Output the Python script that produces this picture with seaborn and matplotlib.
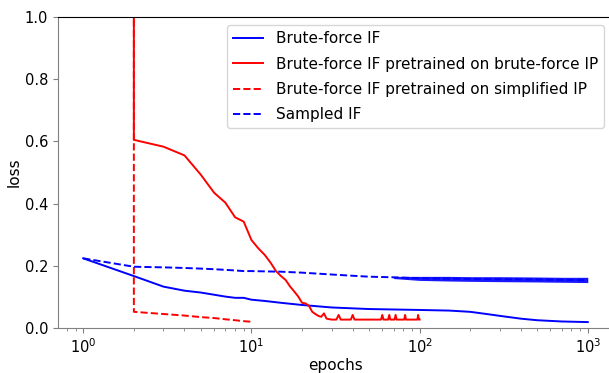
import matplotlib
matplotlib.use("Agg")
import matplotlib.pyplot as plt
import seaborn as sns
import pandas as pd
import numpy as np

# ---- data ----
bf_epochs = [1, 2, 3, 4, 5, 6, 7, 8, 9, 10, 12, 15, 20, 30, 50, 100, 150, 200, 250, 300, 400, 500, 700, 1000]
bf_loss = [0.224, 0.167, 0.133, 0.120, 0.114, 0.107, 0.101, 0.097, 0.097, 0.091, 0.087, 0.081, 0.074,
           0.066, 0.061, 0.058, 0.056, 0.052, 0.045, 0.039, 0.030, 0.025, 0.021, 0.019]

pbf_epochs = [2, 2, 3, 4, 5, 6, 7, 8, 9, 10, 11, 12, 13, 14, 15, 16, 17, 18, 19, 20, 21, 22, 23, 24,
              25, 26, 27, 28, 30, 32, 33, 34, 39, 40, 41, 59, 60, 61, 65, 66, 67, 71, 72, 73,
              81, 82, 83, 97, 98, 99, 100]
pbf_loss = [1.50, 0.605, 0.583, 0.555, 0.493, 0.435, 0.403, 0.356, 0.342, 0.283, 0.256, 0.235, 0.210,
            0.183, 0.167, 0.154, 0.133, 0.117, 0.101, 0.081, 0.079, 0.071, 0.052, 0.045,
            0.039, 0.036, 0.047, 0.030, 0.027, 0.027, 0.042, 0.027, 0.027, 0.042, 0.027,
            0.027, 0.042, 0.027, 0.027, 0.042, 0.027, 0.027, 0.042, 0.027,
            0.027, 0.042, 0.027, 0.027, 0.042, 0.027, 0.027]

psi_epochs = [2, 2, 3, 4, 5, 6, 7, 8, 9, 10]
psi_loss = [1.50, 0.052, 0.045, 0.040, 0.035, 0.032, 0.028, 0.025, 0.022, 0.020]

sif_epochs = [1, 2, 3, 4, 5, 6, 7, 8, 9, 10, 15, 20, 30, 40, 50, 70, 100, 200, 300, 500, 700, 1000]
sif_loss = [0.224, 0.197, 0.195, 0.193, 0.191, 0.189, 0.187, 0.185, 0.183, 0.183, 0.181, 0.178,
            0.172, 0.168, 0.165, 0.163, 0.160, 0.158, 0.157, 0.156, 0.155, 0.154]

# spread of the noisy sampled-IF curve
band_epochs = [70, 100, 150, 200, 300, 500, 700, 1000]
band_low = [0.159, 0.153, 0.151, 0.150, 0.149, 0.148, 0.147, 0.146]
band_high = [0.166, 0.166, 0.166, 0.165, 0.165, 0.164, 0.163, 0.163]

labels = ["Brute-force IF",
          "Brute-force IF pretrained on brute-force IP",
          "Brute-force IF pretrained on simplified IP",
          "Sampled IF"]

W, H = 609, 373
fig = plt.figure(figsize=(W / 100, H / 100), dpi=100)
ax = fig.add_axes([58 / W, 45 / H, 555 / W, 311 / H])

series = [
    (bf_epochs, bf_loss, "blue", "-"),
    (pbf_epochs, pbf_loss, "red", "-"),
    (psi_epochs, psi_loss, "red", "--"),
    (sif_epochs, sif_loss, "blue", "--"),
]
for (ep, ls_, col, sty), lab in zip(series, labels):
    df = pd.DataFrame({"epochs": ep, "loss": ls_})
    sns.lineplot(data=df, x="epochs", y="loss", ax=ax, color=col, linestyle=sty,
                 linewidth=1.4, label=lab, sort=False, estimator=None)

ax.fill_between(band_epochs, band_low, band_high, color="blue", alpha=0.9, linewidth=0)

ax.set_xscale("log")
ax.set_xlim(10 ** -0.15, 10 ** 3.15)
ax.set_ylim(0, 1.0)
ax.set_yticks([0.0, 0.2, 0.4, 0.6, 0.8, 1.0])
ax.set_xlabel("epochs", fontsize=11, labelpad=1)
ax.set_ylabel("loss", fontsize=11, labelpad=2)
ax.tick_params(labelsize=10.5, colors="black")
ax.tick_params(axis="both", which="both", color="gray")

for s in ["left", "bottom"]:
    ax.spines[s].set_color("gray")
ax.spines["top"].set_color("black")

leg = ax.legend(loc="upper right", bbox_to_anchor=(604 / W, 1 - 25 / H),
                bbox_transform=fig.transFigure, borderaxespad=0, fontsize=11,
                labelspacing=0.68)

fig.savefig("out.png", dpi=100)
